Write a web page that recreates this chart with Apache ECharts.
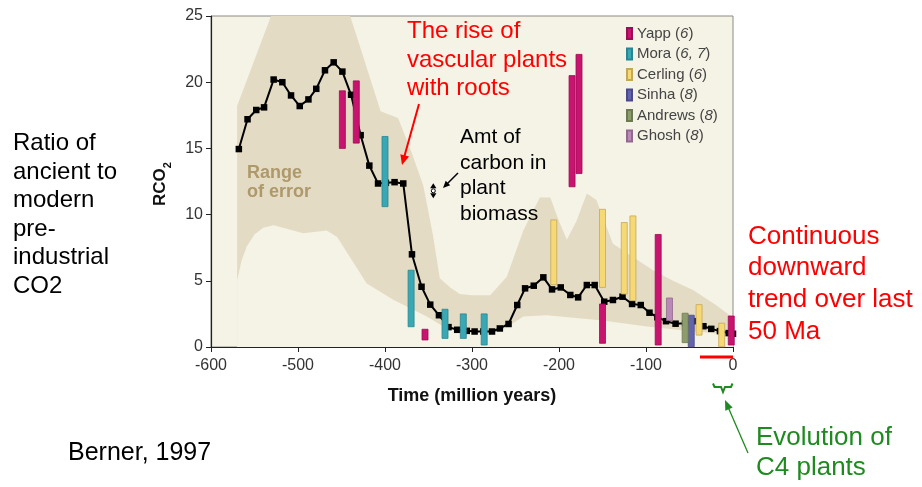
<!DOCTYPE html>
<html>
<head>
<meta charset="utf-8">
<script src="https://cdn.jsdelivr.net/npm/echarts@6/dist/echarts.min.js"></script>
<style>
  html, body { margin: 0; padding: 0; background: #ffffff; }
  #chart { width: 922px; height: 487px; }
</style>
</head>
<body>
<div id="chart"></div>
<script>
// GEOCARB-style RCO2 history (ratio of past to pre-industrial CO2), time in Ma
const ages = [-568, -558, -548, -539, -528, -518, -508, -498, -488, -479, -469, -459,
  -449, -439, -428, -418, -408, -399, -389, -379, -369, -358, -348, -338, -327, -317,
  -306, -297, -287, -277, -268, -258, -248, -239, -229, -218, -208, -198, -187, -178,
  -168, -159, -148, -138, -127, -116, -106, -96, -87, -77, -66, -55, -45, -34, -25, -15, -5, 0];
const rco2 = [14.95, 17.2, 17.9, 18.1, 20.2, 20.0, 19.0, 18.2, 18.7, 19.5, 20.9, 21.5,
  20.8, 19.05, 16.0, 13.7, 12.35, 12.4, 12.45, 12.35, 7.0, 4.55, 3.2, 2.4, 1.5, 1.3,
  1.22, 1.17, 1.17, 1.17, 1.4, 1.74, 3.17, 4.43, 4.63, 5.26, 4.35, 4.5, 3.93, 3.75,
  4.68, 4.68, 3.42, 3.55, 3.8, 3.25, 3.17, 2.59, 2.25, 1.95, 1.76, 1.8, 1.95, 1.57, 1.37, 1.2, 1.05, 1.0];

// Range of error: upper and lower envelopes
const errTopAge = [-570, -531, -440, -405, -385, -370, -356, -345, -337, -325, -314, -300, -279,
  -260, -241, -222, -210, -200, -191, -180, -168, -157, -138, -115, -92, -69, -46, -20, 0];
const errTopVal = [18.2, 25, 25, 17.8, 17.3, 14.8, 12.2, 8.5, 5.2, 4.5, 4.0, 3.9, 3.9,
  5.3, 8.8, 11.3, 11.3, 9.5, 8.1, 9.5, 11.6, 11.1, 7.8, 6.8, 5.8, 5.0, 4.3, 3.2, 2.2];
const errLowAge = [-570, -565, -559, -550, -540, -528, -494, -467, -455, -421, -390, -352, -329,
  -300, -270, -260, -241, -214, -150, -99, -50, 0];
const errLowVal = [5.0, 6.5, 7.6, 8.5, 9.0, 9.2, 8.6, 8.8, 8.3, 4.8, 3.55, 2.3, 1.4,
  1.2, 1.15, 1.5, 2.3, 2.4, 2.0, 1.55, 1.2, 0.9];

// Proxy estimates: [age, low, high]
const yapp = [[-449, 15.0, 19.35], [-433, 15.4, 20.1], [-354, 0.53, 1.34], [-185, 12.1, 20.5],
  [-177, 13.1, 22.1], [-150, 0.28, 3.25], [-86, 0.15, 8.5], [-2, 0.15, 2.34]];
const mora = [[-400, 10.6, 15.9], [-370, 1.53, 5.8], [-331, 0.65, 2.85], [-310, 0.65, 2.5], [-286, 0.15, 2.5]];
const cerling = [[-206, 4.7, 9.6], [-150, 4.5, 10.4], [-125, 4.0, 9.4], [-115, 3.5, 9.9], [-39, 0.9, 3.2], [-13, 0.02, 1.8]];
const sinha = [[-48, 0.02, 2.4]];
const andrews = [[-55, 0.33, 2.55]];
const ghosh = [[-73, 2.0, 3.7]];

const studies = ['Yapp', 'Mora', 'Cerling', 'Sinha', 'Andrews', 'Ghosh'];
const studyRefs = ['6', '6, 7', '6', '8', '8', '8'];
const studyData = [yapp, mora, cerling, sinha, andrews, ghosh];

const xTicks = [-600, 0, 100];   // min, max, interval
const yTicks = [0, 25, 5];

const FONT = "'Liberation Sans', Arial, Helvetica, sans-serif";
const PLOT_BG = '#f5f3e5';
const BAND = '#e4dbc4';
const fills = ['#c8136f', '#3aa8b4', '#f6d874', '#6464ac', '#8c9c6c', '#b98ab6'];
const strokes = ['#9a0e55', '#2a8590', '#c4a85a', '#4a4a88', '#6c7a52', '#93688f'];

const pairs = (xs, ys) => xs.map((x, i) => [x, ys[i]]);

function proxySeries(k) {
  return {
    name: studies[k],
    type: 'custom',
    z: 5,
    itemStyle: { color: fills[k], borderColor: strokes[k], borderWidth: 0.8 },
    encode: { x: 0, y: [1, 2] },
    data: studyData[k],
    renderItem: function (params, api) {
      const top = api.coord([api.value(0), api.value(2)]);
      const bot = api.coord([api.value(0), api.value(1)]);
      return {
        type: 'rect',
        shape: { x: top[0] - 3, y: top[1], width: 6, height: bot[1] - top[1] },
        style: { fill: fills[k], stroke: strokes[k], lineWidth: 0.8 }
      };
    }
  };
}

// arrow helper for annotation callouts
function arrow(x1, y1, x2, y2, color, w, hl, hw) {
  const dx = x2 - x1, dy = y2 - y1, len = Math.hypot(dx, dy);
  const ux = dx / len, uy = dy / len, px = -uy, py = ux;
  const bx = x2 - ux * hl, by = y2 - uy * hl;
  return [
    { type: 'line', shape: { x1: x1, y1: y1, x2: bx + ux * 1, y2: by + uy * 1 },
      style: { stroke: color, lineWidth: w }, z: 100 },
    { type: 'polygon', shape: { points: [[x2, y2], [bx + px * hw, by + py * hw], [bx - px * hw, by - py * hw]] },
      style: { fill: color }, z: 100 }
  ];
}

function label(text, x, y, size, color, lh, weight) {
  return {
    type: 'text', x: x, y: y, z: 100,
    style: { text: text, font: (weight || 'normal') + ' ' + size + 'px ' + FONT,
      fill: color, lineHeight: lh, verticalAlign: 'top', align: 'left' }
  };
}

const chart = echarts.init(document.getElementById('chart'));

const graphics = [
  label('Ratio of\nancient to\nmodern\npre-\nindustrial\nCO2', 13, 129.5, 24, '#000', 28.5),
  label('Berner, 1997', 68, 438.5, 25, '#000', 29),
  label('The rise of\nvascular plants\nwith roots', 407, 17.5, 24, '#ff0000', 28.3),
  label('Amt of\ncarbon in\nplant\nbiomass', 460, 124.5, 21, '#000', 25.6),
  label('Range\nof error', 247, 164, 18, '#ad996b', 18.5, 'bold'),
  label('Continuous\ndownward\ntrend over last\n50 Ma', 748, 220.5, 26, '#ff0000', 31.7),
  label('Evolution of\nC4 plants', 756, 423, 26, '#1f8a1f', 30),
  {
    type: 'text', x: 159, y: 184, rotation: Math.PI / 2, z: 100,
    style: {
      text: '{a|RCO}{b|2}', align: 'center', verticalAlign: 'middle',
      rich: {
        a: { font: 'bold 17px ' + FONT, fill: '#111', lineHeight: 20, verticalAlign: 'bottom' },
        b: { font: 'bold 11px ' + FONT, fill: '#111', lineHeight: 20, verticalAlign: 'bottom', padding: [0, 0, -4, 0] }
      }
    }
  },
  {
    type: 'text', x: 472, y: 396, z: 100,
    style: { text: 'Time (million years)', font: 'bold 18px ' + FONT, fill: '#111', align: 'center', verticalAlign: 'middle' }
  },
  // red bar marking the last 50 Ma
  { type: 'line', z: 100, shape: { x1: 700, y1: 357, x2: 733, y2: 357 }, style: { stroke: '#ff0000', lineWidth: 3 } },
  // green brace marking C4 origin
  { type: 'polyline', z: 100, shape: { points: [[713, 383.5], [714.5, 387], [721, 387], [723, 392], [725, 387], [731, 387], [732.5, 383.5]] },
    style: { stroke: '#1f8a1f', lineWidth: 2, fill: null } },
  // biomass range marker
  { type: 'polygon', z: 100, shape: { points: [[433.3, 183.3], [430.2, 188.3], [436.4, 188.3]] }, style: { fill: '#000' } },
  { type: 'polygon', z: 100, shape: { points: [[433.3, 198.3], [430.2, 193.3], [436.4, 193.3]] }, style: { fill: '#000' } },
  { type: 'circle', z: 100, shape: { cx: 433.3, cy: 190.8, r: 2 }, style: { fill: '#fff', stroke: '#000', lineWidth: 1 } }
].concat(
  arrow(419, 104, 402, 165, '#ff0000', 2, 10, 4.5),
  arrow(458, 173, 443, 188, '#000', 1.5, 7, 3.2),
  arrow(748, 453, 725, 400, '#1f8a1f', 1.3, 10, 4)
);

const option = {
  animation: false,
  backgroundColor: '#ffffff',
  textStyle: { fontFamily: FONT },
  grid: {
    left: 211, right: 189, top: 16, bottom: 140,
    show: true, backgroundColor: PLOT_BG, borderColor: '#8a8a8a', borderWidth: 1
  },
  xAxis: {
    type: 'value', min: xTicks[0], max: xTicks[1], interval: xTicks[2],
    axisLine: { show: true, onZero: false, lineStyle: { color: '#222', width: 1.2 } },
    axisTick: { show: true, length: 5, lineStyle: { color: '#222' } },
    axisLabel: { fontSize: 16, color: '#333', margin: 11, fontFamily: FONT },
    splitLine: { show: false }
  },
  yAxis: {
    type: 'value', min: yTicks[0], max: yTicks[1], interval: yTicks[2],
    axisLine: { show: true, onZero: false, lineStyle: { color: '#222', width: 1.2 } },
    axisTick: { show: true, length: 5, lineStyle: { color: '#222' } },
    axisLabel: { fontSize: 16, color: '#333', margin: 8, fontFamily: FONT },
    splitLine: { show: false }
  },
  legend: {
    orient: 'vertical', left: 626, top: 25.5, padding: 0,
    itemWidth: 5, itemHeight: 11, itemGap: 4.5, icon: 'rect',
    data: studies,
    formatter: function (name) {
      const i = studies.indexOf(name);
      return '{n|' + name + ' (}{i|' + studyRefs[i] + '}{n|)}';
    },
    textStyle: {
      fontSize: 15, color: '#444', fontFamily: FONT, lineHeight: 16,
      rich: {
        n: { fontSize: 15, color: '#444', fontFamily: FONT, lineHeight: 16 },
        i: { fontSize: 15, color: '#444', fontFamily: FONT, fontStyle: 'italic', lineHeight: 16 }
      }
    }
  },
  series: [
    {
      name: 'err-top', type: 'line', z: 1, silent: true, symbol: 'none',
      lineStyle: { width: 0, opacity: 0 }, areaStyle: { color: BAND, opacity: 1 },
      data: pairs(errTopAge, errTopVal)
    },
    {
      name: 'err-low', type: 'line', z: 2, silent: true, symbol: 'none',
      lineStyle: { width: 0, opacity: 0 }, areaStyle: { color: PLOT_BG, opacity: 1 },
      data: pairs(errLowAge, errLowVal)
    },
    {
      name: 'RCO2', type: 'line', z: 4, symbol: 'rect', symbolSize: 6.5,
      itemStyle: { color: '#000' }, lineStyle: { color: '#000', width: 2 },
      data: pairs(ages, rco2)
    }
  ].concat(studies.map((s, k) => proxySeries(k))),
  graphic: graphics
};

chart.setOption(option);
</script>
</body>
</html>
